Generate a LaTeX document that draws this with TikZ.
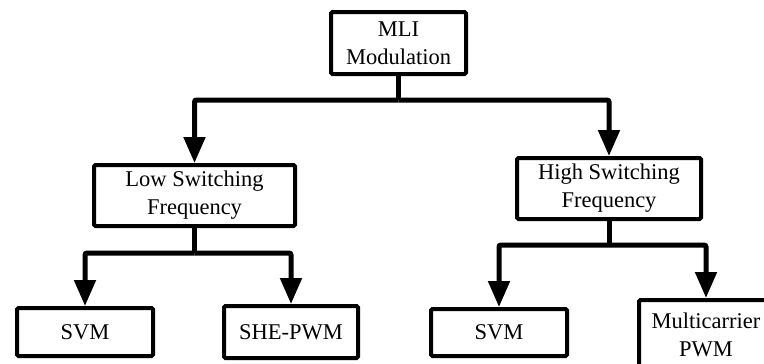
\documentclass[tikz,border=0pt]{standalone}
\usepackage{fontspec}
\setmainfont{Liberation Serif}
\usetikzlibrary{arrows.meta}
\begin{document}
\begin{tikzpicture}[x=1pt,y=-1pt,
  box/.style={draw, line width=4pt, rounded corners=1.5pt, align=center,
    font=\fontsize{22.5}{28}\selectfont, inner sep=0pt},
  conn/.style={line width=5pt, rounded corners=2pt},
  arr/.style={conn, -{Triangle[length=26pt,width=21pt]}}]
\useasboundingbox (0,0) rectangle (764,364);
\clip (0,0) rectangle (764,364);

\node[box, minimum width=135pt, minimum height=62pt] (mli) at (398.5,43) {MLI\\Modulation};
\node[box, minimum width=201pt, minimum height=61pt] (low) at (194.5,195.5) {Low Switching\\Frequency};
\node[box, minimum width=184pt, minimum height=61pt] (high) at (609,188.5) {High Switching\\Frequency};
\node[box, minimum width=136pt, minimum height=48pt] (svma) at (85,332) {SVM};
\node[box, minimum width=134pt, minimum height=52pt] (she) at (291,332) {SHE-PWM};
\node[box, minimum width=136pt, minimum height=47pt] (svmb) at (499,332.5) {SVM};
\node[box, minimum width=134pt, minimum height=70pt] (multi) at (706,335) {Multicarrier\\PWM};

\coordinate (j1) at (398.5,100);
\coordinate (j2) at (194.5,253);
\coordinate (j3) at (609,245);

\draw[conn] (mli.south) -- (j1);
\draw[arr] (j1) -| (low.north);
\draw[arr] (j1) -| (high.north);
\draw[conn] (low.south) -- (j2);
\draw[arr] (j2) -| (svma.north);
\draw[arr] (j2) -| (she.north);
\draw[conn] (high.south) -- (j3);
\draw[arr] (j3) -| (svmb.north);
\draw[arr] (j3) -| (multi.north);
\end{tikzpicture}
\end{document}
